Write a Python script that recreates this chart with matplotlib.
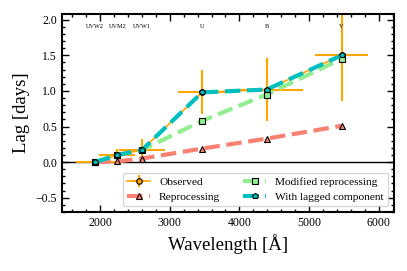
import numpy as np
import matplotlib.pyplot as plt
from matplotlib.ticker import AutoMinorLocator

plt.rcParams['font.family'] = ['Liberation Serif', 'DejaVu Serif']
plt.rcParams['mathtext.fontset'] = 'stix'

# Swift bands
bands = ["UVW2", "UVM2", "UVW1", "U", "B", "V"]
wavelength = np.array([1928, 2246, 2600, 3465, 4392, 5468])
wave_err = np.array([280, 260, 330, 350, 520, 384])

observed = np.array([0.0, 0.10, 0.17, 0.98, 1.02, 1.50])
observed_err = np.array([0.02, 0.08, 0.16, 0.31, 0.44, 0.64])

reprocessing = np.array([0.0, 0.01, 0.05, 0.19, 0.33, 0.51])
modified = np.array([0.0, 0.10, 0.17, 0.58, 0.95, 1.45])
lagged = np.array([0.0, 0.10, 0.17, 0.98, 1.02, 1.50])

fig, ax = plt.subplots(figsize=(4.07, 2.71), dpi=100)

ax.axhline(0, color="k", lw=1.0, zorder=1)

h_obs = ax.errorbar(wavelength, observed, xerr=wave_err, yerr=observed_err,
                    color="orange", marker="o", ms=4, mec="k", mew=0.8,
                    lw=1.2, elinewidth=1.5, capsize=0, label="Observed", zorder=2)
h_rep, = ax.plot(wavelength, reprocessing, color="salmon", ls="--", lw=3,
                 marker="^", ms=4, mfc="salmon", mec="k", mew=0.8,
                 label="Reprocessing", zorder=3)
h_mod, = ax.plot(wavelength, modified, color="lightgreen", ls="--", lw=3,
                 marker="s", ms=4.5, mfc="lightgreen", mec="k", mew=0.8,
                 label="Modified reprocessing", zorder=4)
h_lag, = ax.plot(wavelength, lagged, color="c", ls="--", lw=3,
                 marker="p", ms=4, mfc="c", mec="k", mew=0.8,
                 label="With lagged component", zorder=5)

for name, wl in zip(bands, wavelength):
    ax.text(wl, 1.9, name, fontsize=4.5, ha="center", va="center")

ax.set_xlim(1450, 6220)
ax.set_ylim(-0.7, 2.08)
ax.set_xticks([2000, 3000, 4000, 5000, 6000])
ax.set_yticks([-0.5, 0.0, 0.5, 1.0, 1.5, 2.0])
ax.xaxis.set_minor_locator(AutoMinorLocator(5))
ax.yaxis.set_minor_locator(AutoMinorLocator(5))
ax.tick_params(which="both", direction="in", top=True, right=True,
               labelsize=8.5, width=1)
ax.tick_params(which="major", length=5)
ax.tick_params(which="minor", length=2.5)
for sp in ax.spines.values():
    sp.set_linewidth(1.5)

ax.set_xlabel("Wavelength [Å]", fontsize=13.5)
ax.set_ylabel("Lag [days]", fontsize=13.5)
ax.legend([h_obs, h_rep, h_mod, h_lag],
          ["Observed", "Reprocessing", "Modified reprocessing", "With lagged component"],
          loc="lower right", ncol=2, fontsize=8.2, handlelength=2.0,
          columnspacing=2.0, borderaxespad=0.5, labelspacing=0.4,
          borderpad=0.4, handletextpad=0.8)

fig.subplots_adjust(left=0.152, right=0.968, top=0.948, bottom=0.218)
fig.savefig("out.png", dpi=100)
